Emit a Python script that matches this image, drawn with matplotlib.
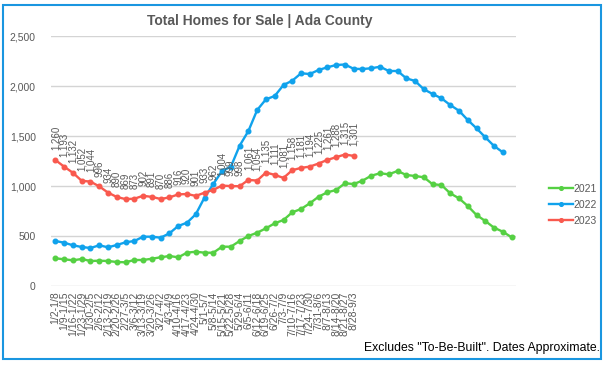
import matplotlib
matplotlib.use("Agg")
import matplotlib.pyplot as plt
from matplotlib.patches import Rectangle
from matplotlib.ticker import FuncFormatter

plt.rcParams['font.family'] = ['Liberation Sans', 'DejaVu Sans']

week_labels = ["1/2-1/8", "1/9-1/15", "1/16-1/22", "1/23-1/29", "1/30-2/5", "2/6-2/12",
               "2/13-2/19", "2/20-2/26", "2/27-3/5", "3/6-3/12", "3/13-3/19", "3/20-3/26",
               "3/27-4/2", "4/3-4/9", "4/10-4/16", "4/17-4/23", "4/24-4/30", "5/1-5/7",
               "5/8-5/14", "5/15-5/21", "5/22-5/28", "5/29-6/4", "6/5-6/11", "6/12-6/18",
               "6/19-6/25", "6/26-7/2", "7/3-7/9", "7/10-7/16", "7/17-7/23", "7/24-7/30",
               "7/31-8/6", "8/7-8/13", "8/14-8/20", "8/21-8/27", "8/28-9/3"]
n_weeks = 53

homes_2021 = [277, 267, 257, 270, 250, 253, 250, 240, 237, 260, 260, 273, 287, 300, 287,
              333, 343, 333, 333, 393, 393, 450, 500, 533, 577, 627, 660, 737, 770, 827,
              893, 937, 960, 1027, 1020, 1053, 1103, 1127, 1117, 1150, 1110, 1100, 1087,
              1017, 1010, 927, 877, 800, 710, 650, 583, 543, 487]
homes_2022 = [450, 433, 407, 390, 380, 407, 387, 410, 437, 450, 493, 493, 483, 527, 600,
              633, 717, 885, 1020, 1150, 1193, 1403, 1550, 1760, 1867, 1900, 2010, 2053,
              2127, 2120, 2160, 2187, 2210, 2215, 2172, 2170, 2177, 2193, 2150, 2150, 2077,
              2050, 1967, 1920, 1877, 1810, 1753, 1660, 1577, 1487, 1400, 1337]
homes_2023 = [1260, 1193, 1132, 1052, 1044, 996, 934, 890, 869, 873, 902, 891, 870, 886,
              916, 920, 901, 933, 962, 1004, 999, 998, 1061, 1054, 1135, 1111, 1081, 1158,
              1181, 1194, 1225, 1261, 1288, 1315, 1301]

col21, col22, col23 = "#55d043", "#10a2ec", "#f9594e"
gray = "#595959"

fig = plt.figure(figsize=(6.07, 3.65), dpi=100)
ax = fig.add_axes([51/607, 1-286/365, (516-51)/607, 250/365])

for vals, c, lab in [(homes_2021, col21, "2021"), (homes_2022, col22, "2022"), (homes_2023, col23, "2023")]:
    ax.plot(range(len(vals)), vals, color=c, lw=1.7, marker="o", ms=3.3, label=lab, zorder=3)

for i, v in enumerate(homes_2023):
    ax.annotate(f"{v:,}", (i, v), xytext=(0, 7), textcoords="offset points",
                rotation=90, ha="center", va="bottom", fontsize=7, color=gray, zorder=4)

ax.set_xlim(-0.5, n_weeks - 0.5)
ax.set_ylim(0, 2500)
ax.set_yticks(range(0, 2501, 500))
ax.yaxis.set_major_formatter(FuncFormatter(lambda v, p: f"{int(v):,}"))
ax.set_xticks(range(n_weeks))
ax.set_xticklabels(week_labels + [""] * (n_weeks - len(week_labels)), rotation=90)
ax.tick_params(axis="x", length=0, labelsize=7.5, labelcolor=gray, pad=4)
ax.tick_params(axis="y", length=0, labelsize=7.5, labelcolor=gray, pad=11)
ax.grid(axis="y", color="#d4d4d4", lw=1)
ax.set_axisbelow(True)
for s in ax.spines.values():
    s.set_visible(False)

leg = ax.legend(loc="center left", bbox_to_anchor=(1.05, 0.325), frameon=False,
                fontsize=7.5, labelspacing=0.6, handlelength=2.3, handletextpad=0.1,
                markerscale=0.8)
for t in leg.get_texts():
    t.set_color(gray)

fig.text(260/607, 1-21/365, "Total Homes for Sale | Ada County", ha="center", va="center",
         fontsize=10, fontweight="bold", color=gray)
fig.text(600/607, 1-348/365, 'Excludes "To-Be-Built". Dates Approximate.', ha="right",
         va="center", fontsize=8.8, color="black")

fig.patches.append(Rectangle((3/607, 1-359/365), 598/607, 354/365, transform=fig.transFigure,
                             fill=False, edgecolor="#1a96e0", lw=1.5))

fig.savefig("out.png", dpi=100)
